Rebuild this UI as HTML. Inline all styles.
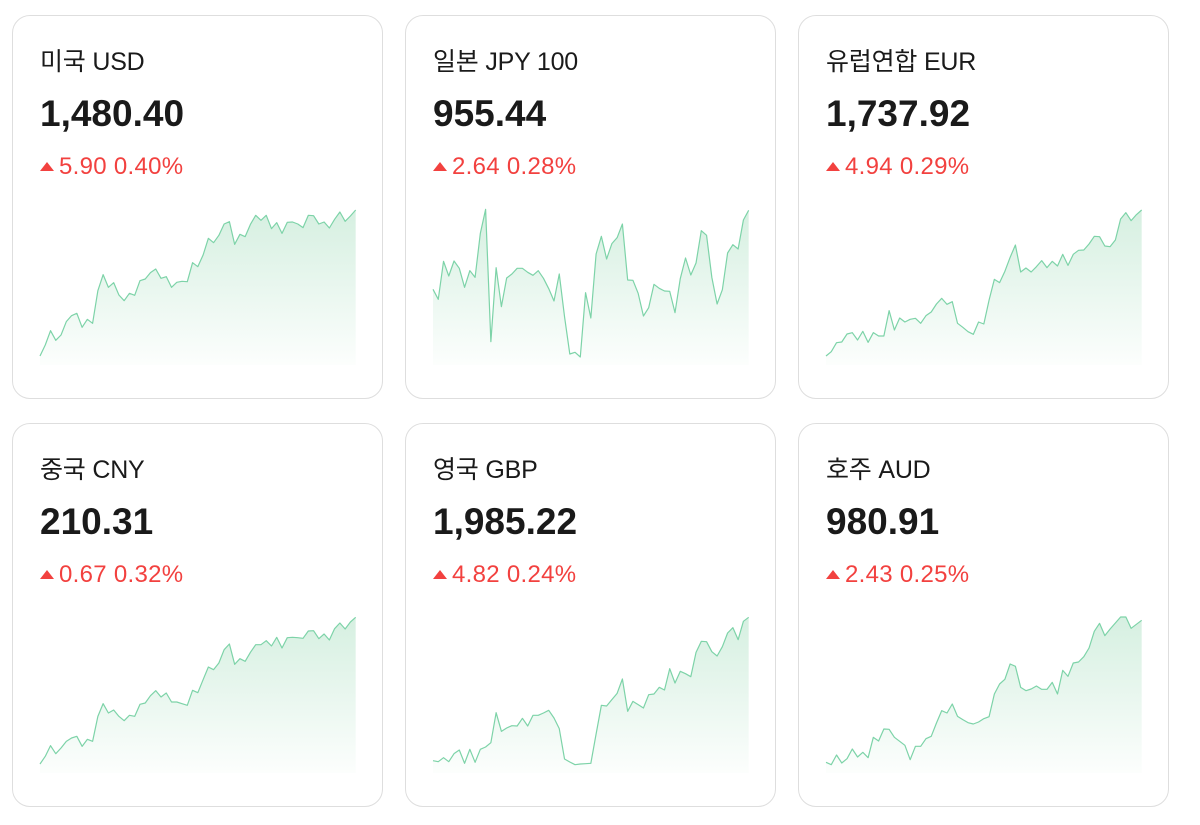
<!DOCTYPE html><html><head><meta charset="utf-8"><style>
body{margin:0;width:1200px;height:825px;background:#fff;position:relative;overflow:hidden;font-family:"Liberation Sans","Noto Sans CJK KR",sans-serif}
.card{position:absolute;border:1.5px solid #dedede;border-radius:18px;box-sizing:border-box;width:371px;height:384px}
.t{position:absolute;left:27px;top:30px;font-size:25px;color:#1a1a1a;line-height:32px;letter-spacing:-0.2px}
.v{position:absolute;left:27px;top:77px;font-size:37px;font-weight:bold;color:#1a1a1a;line-height:42px}
.c{position:absolute;left:27px;top:136px;font-size:24px;color:#f2413f;line-height:30px;letter-spacing:0.3px}
.c i{display:inline-block;width:0;height:0;border-left:7px solid transparent;border-right:7px solid transparent;border-bottom:9px solid #f2413f;margin-right:5px;vertical-align:3px}
svg.s{position:absolute;width:340px;height:170px}
</style></head><body>
<div class="card" style="left:12px;top:15px"><div class="t">미국 USD</div><div class="v">1,480.40</div><div class="c"><i></i>5.90 0.40%</div></div>
<div class="card" style="left:405px;top:15px"><div class="t">일본 JPY 100</div><div class="v">955.44</div><div class="c"><i></i>2.64 0.28%</div></div>
<div class="card" style="left:798px;top:15px"><div class="t">유럽연합 EUR</div><div class="v">1,737.92</div><div class="c"><i></i>4.94 0.29%</div></div>
<div class="card" style="left:12px;top:423px"><div class="t">중국 CNY</div><div class="v">210.31</div><div class="c"><i></i>0.67 0.32%</div></div>
<div class="card" style="left:405px;top:423px"><div class="t">영국 GBP</div><div class="v">1,985.22</div><div class="c"><i></i>4.82 0.24%</div></div>
<div class="card" style="left:798px;top:423px"><div class="t">호주 AUD</div><div class="v">980.91</div><div class="c"><i></i>2.43 0.25%</div></div>
<div id="charts"></div>
<script>
var D=[
[30,200,[468,435,392,421,405,365,347,340,382,358,370,272,224,262,248,285,302,280,286,242,237,218,207,235,230,262,247,244,245,188,200,165,115,128,106,72,65,133,103,110,73,46,61,46,86,68,100,67,66,72,83,46,47,72,66,84,58,36,64,48,30]],
[423,200,[268,298,184,228,183,205,262,212,232,100,28,425,203,320,234,222,205,205,217,226,212,235,266,303,222,350,462,457,471,278,354,162,109,177,131,113,72,240,241,280,348,323,253,265,273,274,338,236,174,225,189,92,106,232,312,269,159,134,147,60,31]],
[816,200,[468,455,428,426,402,398,420,394,427,398,408,408,332,390,354,366,358,355,370,347,336,312,295,313,305,370,382,395,403,366,372,300,238,248,214,172,135,216,204,216,200,182,203,184,198,163,196,163,151,150,132,109,110,138,140,120,57,38,62,44,30]],
[30,608,[468,445,413,437,420,400,390,385,415,394,400,325,287,315,306,325,338,322,325,289,285,263,248,267,255,282,282,287,292,247,254,215,177,185,165,125,108,169,152,160,133,110,110,98,114,88,120,89,88,89,91,69,68,92,78,96,62,45,63,42,28]],
[423,608,[458,461,449,461,437,426,466,424,463,424,417,404,314,370,360,353,354,331,354,322,322,315,307,330,362,453,462,470,468,467,466,378,292,294,275,256,213,310,280,290,300,260,258,238,246,182,225,190,197,206,133,100,101,131,144,116,75,59,95,40,28]],
[816,608,[463,470,441,465,452,423,447,433,449,388,399,363,364,388,400,412,455,415,415,392,385,345,308,315,288,325,335,344,348,342,332,326,258,228,214,168,175,238,248,243,234,244,244,223,258,187,205,165,162,146,120,70,46,83,63,45,27,27,61,49,37]]];
var h='';
D.forEach(function(d,k){
 var p=d[2].map(function(y,i){return (30+15.783*i).toFixed(1)+','+y}).join(' ');
 h+='<svg class="s" style="left:'+d[0]+'px;top:'+d[1]+'px" viewBox="0 0 1020 510"><defs><linearGradient id="g'+k+'" x1="0" y1="0" x2="0" y2="1"><stop offset="0" stop-color="#6cc893" stop-opacity="0.28"/><stop offset="1" stop-color="#6cc893" stop-opacity="0.02"/></linearGradient></defs>'+
 '<polygon points="30,495 '+p+' 977,495" fill="url(#g'+k+')"/><polyline points="'+p+'" fill="none" stroke="#7dd3a8" stroke-width="3.6" stroke-linejoin="round"/></svg>';
});
document.getElementById('charts').innerHTML=h;
</script>
</body></html>
